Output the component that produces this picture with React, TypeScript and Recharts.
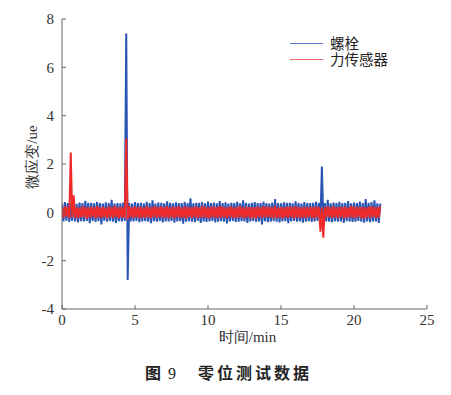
import { LineChart, Line, XAxis, YAxis } from "recharts";

// sample interval of the logged readings, minutes
const sampleStep = 0.1;

const boltStrain = [
  0.36, -0.38, 0.42, -0.34, 0.38, -0.4, 0.37, -0.35, 0.45, -0.38,
  0.35, -0.42, 0.4, -0.37, 0.38, -0.38, 0.48, -0.36, 0.39, -0.45,
  0.39, -0.36, 0.37, -0.4, 0.44, -0.37, 0.38, -0.5, 0.36, -0.35,
  0.41, -0.39, 0.38, -0.36, 0.52, -0.39, 0.36, -0.44, 0.38, -0.37,
  0.37, -0.38, 0.4, -0.36, 7.4, -2.8, 0.39, -0.38, 0.36, -0.38,
  0.42, -0.36, 0.38, -0.41, 0.39, -0.38, 0.36, -0.37, 0.43, -0.39,
  0.38, -0.45, 0.5, -0.37, 0.36, -0.39, 0.4, -0.36, 0.39, -0.42,
  0.37, -0.38, 0.46, -0.38, 0.39, -0.36, 0.37, -0.43, 0.41, -0.38,
  0.38, -0.37, 0.38, -0.47, 0.43, -0.39, 0.38, -0.37, 0.58, -0.39,
  0.37, -0.41, 0.39, -0.36, 0.39, -0.44, 0.42, -0.38, 0.37, -0.4,
  0.45, -0.38, 0.38, -0.36, 0.4, -0.42, 0.37, -0.39, 0.47, -0.37,
  0.38, -0.39, 0.41, -0.46, 0.36, -0.38, 0.39, -0.36, 0.38, -0.4,
  0.43, -0.39, 0.37, -0.37, 0.5, -0.38, 0.39, -0.44, 0.36, -0.38,
  0.39, -0.36, 0.42, -0.4, 0.38, -0.38, 0.38, -0.5, 0.44, -0.37,
  0.38, -0.41, 0.36, -0.39, 0.4, -0.37, 0.55, -0.39, 0.38, -0.42,
  0.37, -0.38, 0.41, -0.37, 0.39, -0.45, 0.39, -0.38, 0.37, -0.36,
  0.46, -0.39, 0.38, -0.38, 0.36, -0.43, 0.42, -0.39, 0.38, -0.37,
  0.38, -0.4, 0.39, -0.38, 0.44, -0.36, 0.39, -0.38, 1.9, -0.42,
  0.38, -0.38, 0.52, -0.39, 0.37, -0.41, 0.4, -0.37, 0.38, -0.39,
  0.43, -0.38, 0.38, -0.44, 0.39, -0.37, 0.47, -0.38, 0.37, -0.4,
  0.4, -0.39, 0.38, -0.36, 0.45, -0.39, 0.38, -0.43, 0.55, -0.38,
  0.39, -0.41, 0.42, -0.38, 0.5, -0.38, 0.37, -0.44, 0.36,
];

const sensorStrain = [
  0.2, -0.22, 0.25, -0.18, 0.23, -0.24, 2.48, -0.2, 0.7, -0.23,
  0.22, -0.25, 0.19, -0.21, 0.26, -0.2, 0.23, -0.27, 0.2, -0.22,
  0.24, -0.19, 0.21, -0.25, 0.27, -0.22, 0.2, -0.24, 0.23, -0.2,
  0.19, -0.26, 0.25, -0.21, 0.22, -0.23, 0.28, -0.2, 0.21, -0.25,
  0.23, -0.22, 0.2, -0.24, 3.05, -0.3, 0.26, -0.21, 0.22, -0.23,
  0.25, -0.2, 0.21, -0.26, 0.24, -0.22, 0.19, -0.23, 0.27, -0.21,
  0.2, -0.25, 0.23, -0.19, 0.26, -0.24, 0.22, -0.2, 0.25, -0.23,
  0.21, -0.22, 0.27, -0.25, 0.2, -0.21, 0.24, -0.26, 0.22, -0.2,
  0.26, -0.23, 0.2, -0.22, 0.25, -0.27, 0.23, -0.19, 0.21, -0.24,
  0.22, -0.2, 0.26, -0.25, 0.19, -0.22, 0.28, -0.21, 0.24, -0.23,
  0.2, -0.26, 0.23, -0.2, 0.25, -0.23, 0.21, -0.24, 0.27, -0.22,
  0.24, -0.21, 0.2, -0.25, 0.22, -0.2, 0.26, -0.23, 0.19, -0.24,
  0.23, -0.22, 0.27, -0.21, 0.2, -0.26, 0.24, -0.2, 0.22, -0.25,
  0.21, -0.24, 0.22, -0.27, 0.25, -0.2, 0.2, -0.23, 0.26, -0.21,
  0.25, -0.2, 0.23, -0.22, 0.21, -0.25, 0.27, -0.24, 0.2, -0.22,
  0.22, -0.26, 0.2, -0.21, 0.24, -0.23, 0.25, -0.2, 0.23, -0.27,
  0.26, -0.21, 0.22, -0.24, 0.2, -0.22, 0.23, -0.25, 0.21, -0.2,
  0.24, -0.23, 0.21, -0.26, 0.25, -0.2, 0.22, -0.8, 0.2, -1.05,
  0.23, -0.22, 0.25, -0.2, 0.21, -0.24, 0.26, -0.21, 0.2, -0.25,
  0.23, -0.2, 0.22, -0.26, 0.24, -0.23, 0.2, -0.21, 0.27, -0.22,
  0.25, -0.24, 0.21, -0.2, 0.23, -0.25, 0.22, -0.27, 0.2, -0.21,
  0.24, -0.23, 0.26, -0.2, 0.22, -0.24, 0.21, -0.22, 0.25,
];

const xTicks = [0, 5, 10, 15, 20, 25];
const yTicks = [-4, -2, 0, 2, 4, 6, 8];

const seriesNames = ["螺栓", "力传感器"];
const BLUE = "#2a55b3";
const RED = "#ef2a2a";

const boltData = boltStrain.map((v, i) => ({ t: +(i * sampleStep).toFixed(1), v }));
const sensorData = sensorStrain.map((v, i) => ({ t: +(i * sampleStep).toFixed(1), v }));

const serif = "'Liberation Serif', 'DejaVu Serif', serif";
const cjk = "'Noto Sans CJK SC', sans-serif";

function LegendBox() {
  const colors = ["#5a7ccc", "#f06a6a"];
  return (
    <div
      style={{
        position: "absolute",
        top: 35,
        left: 290,
        fontFamily: cjk,
        fontSize: 14.5,
        color: "#222",
        lineHeight: "16px",
      }}
    >
      {seriesNames.map((name, i) => (
        <div key={name} style={{ display: "flex", alignItems: "center", height: 16 }}>
          <div style={{ width: 33, height: 0, borderTop: `1px solid ${colors[i]}`, marginRight: 7 }} />
          <span>{name}</span>
        </div>
      ))}
    </div>
  );
}

export default function App() {
  return (
    <div style={{ position: "absolute", left: 0, top: 0, width: 451, height: 395, background: "#fff" }}>
      <LineChart
        width={451}
        height={395}
        margin={{ top: 19, right: 24, left: 2, bottom: 56 }}
      >
        <XAxis
          type="number"
          dataKey="t"
          domain={[0, 25]}
          ticks={xTicks}
          allowDataOverflow
          height={30}
          stroke="#666"
          tickSize={-4}
          tickMargin={9}
          tick={{ fill: "#333", fontSize: 15, fontFamily: serif }}
          label={{
            content: ({ viewBox }: any) => (
              <text
                x={viewBox.x + viewBox.width / 2 + 3}
                y={337}
                textAnchor="middle"
                dominantBaseline="central"
                fill="#333"
                fontFamily={serif}
                fontSize={15}
              >
                时间/min
              </text>
            ),
          }}
        />
        <YAxis
          type="number"
          domain={[-4, 8]}
          ticks={yTicks}
          allowDataOverflow
          width={60}
          stroke="#666"
          tickSize={-4}
          tickMargin={12}
          tick={{ fill: "#333", fontSize: 15, fontFamily: serif }}
          label={{
            content: ({ viewBox }: any) => (
              <text
                x={32}
                y={viewBox.y + viewBox.height / 2 - 7}
                transform={`rotate(-90, 32, ${viewBox.y + viewBox.height / 2 - 7})`}
                textAnchor="middle"
                dominantBaseline="central"
                fill="#333"
                fontFamily={serif}
                fontSize={15}
              >
                微应变/ue
              </text>
            ),
          }}
        />
        <Line
          data={boltData}
          dataKey="v"
          name={seriesNames[0]}
          type="linear"
          stroke={BLUE}
          strokeWidth={2}
          dot={false}
          isAnimationActive={false}
        />
        <Line
          data={sensorData}
          dataKey="v"
          name={seriesNames[1]}
          type="linear"
          stroke={RED}
          strokeWidth={2}
          dot={false}
          isAnimationActive={false}
        />
      </LineChart>
      <LegendBox />
      <div
        style={{
          position: "absolute",
          top: 363,
          left: 145,
          fontFamily: cjk,
          fontWeight: 700,
          fontSize: 16,
          lineHeight: "18px",
          color: "#222",
          whiteSpace: "nowrap",
        }}
      >
        <span>图</span>
        <span style={{ fontFamily: serif, fontWeight: 400, marginLeft: 7 }}>9</span>
        <span style={{ marginLeft: 22, letterSpacing: 3 }}>零位测试数据</span>
      </div>
    </div>
  );
}
